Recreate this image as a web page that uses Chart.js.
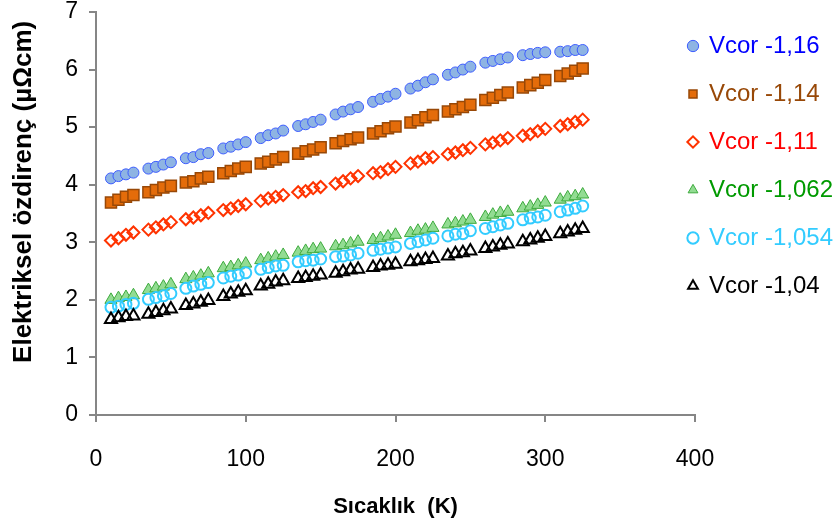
<!DOCTYPE html>
<html>
<head>
<meta charset="utf-8">
<script src="https://cdn.jsdelivr.net/npm/chart.js@4/dist/chart.umd.min.js"></script>
<style>
  body { margin: 0; background: #fff; }
  #wrap { width: 835px; height: 531px; }
</style>
</head>
<body>
<div id="wrap"><canvas id="chart" width="835" height="531"></canvas></div>
<script>
// temperatures (K), same for every series
const sicaklik = [10, 15, 20, 25, 35, 40, 45, 50, 60, 65, 70, 75, 85, 90, 95, 100,
  110, 115, 120, 125, 135, 140, 145, 150, 160, 165, 170, 175, 185, 190, 195, 200,
  210, 215, 220, 225, 235, 240, 245, 250, 260, 265, 270, 275, 285, 290, 295, 300,
  310, 315, 320, 325];

// resistivity (µΩcm) per Vcor
const vcor116 = [4.11, 4.15, 4.18, 4.21, 4.28, 4.31, 4.35, 4.39, 4.46, 4.48, 4.53, 4.55,
  4.63, 4.66, 4.70, 4.74, 4.81, 4.86, 4.89, 4.94, 5.02, 5.05, 5.09, 5.13,
  5.22, 5.27, 5.31, 5.35, 5.44, 5.49, 5.53, 5.58, 5.67, 5.72, 5.78, 5.83,
  5.91, 5.95, 6.00, 6.05, 6.12, 6.15, 6.18, 6.21, 6.25, 6.27, 6.29, 6.30,
  6.31, 6.32, 6.34, 6.34];
const vcor114 = [3.69, 3.74, 3.79, 3.82, 3.87, 3.91, 3.95, 3.98, 4.04, 4.06, 4.11, 4.14,
  4.20, 4.24, 4.28, 4.31, 4.37, 4.40, 4.44, 4.48, 4.54, 4.58, 4.61, 4.65,
  4.72, 4.76, 4.79, 4.82, 4.89, 4.93, 4.98, 5.01, 5.08, 5.12, 5.17, 5.21,
  5.27, 5.31, 5.35, 5.39, 5.47, 5.51, 5.56, 5.60, 5.69, 5.73, 5.77, 5.82,
  5.89, 5.93, 5.98, 6.02];
const vcor111 = [3.03, 3.07, 3.13, 3.17, 3.22, 3.26, 3.31, 3.35, 3.40, 3.43, 3.47, 3.51,
  3.56, 3.59, 3.63, 3.66, 3.72, 3.76, 3.79, 3.82, 3.87, 3.89, 3.94, 3.96,
  4.02, 4.06, 4.11, 4.15, 4.20, 4.22, 4.27, 4.31, 4.37, 4.40, 4.46, 4.48,
  4.53, 4.56, 4.60, 4.64, 4.70, 4.73, 4.77, 4.81, 4.85, 4.88, 4.93, 4.97,
  5.02, 5.05, 5.09, 5.13];
const vcor1062 = [2.00, 2.03, 2.05, 2.08, 2.17, 2.20, 2.23, 2.27, 2.36, 2.39, 2.42, 2.46,
  2.55, 2.57, 2.60, 2.63, 2.69, 2.72, 2.75, 2.78, 2.82, 2.85, 2.88, 2.89,
  2.93, 2.95, 2.98, 3.01, 3.04, 3.07, 3.10, 3.13, 3.16, 3.20, 3.22, 3.25,
  3.31, 3.33, 3.36, 3.39, 3.44, 3.48, 3.51, 3.53, 3.59, 3.62, 3.65, 3.69,
  3.74, 3.78, 3.80, 3.83];
const vcor1054 = [1.87, 1.89, 1.92, 1.94, 2.01, 2.04, 2.07, 2.11, 2.20, 2.24, 2.27, 2.30,
  2.38, 2.41, 2.43, 2.47, 2.53, 2.56, 2.59, 2.60, 2.66, 2.68, 2.69, 2.71,
  2.75, 2.76, 2.78, 2.81, 2.86, 2.88, 2.90, 2.92, 2.98, 3.01, 3.04, 3.07,
  3.11, 3.14, 3.15, 3.20, 3.24, 3.27, 3.30, 3.33, 3.39, 3.42, 3.44, 3.47,
  3.53, 3.56, 3.59, 3.63];
const vcor104 = [1.66, 1.69, 1.71, 1.72, 1.75, 1.78, 1.81, 1.84, 1.90, 1.93, 1.96, 1.99,
  2.06, 2.10, 2.13, 2.16, 2.24, 2.27, 2.31, 2.33, 2.37, 2.39, 2.41, 2.43,
  2.46, 2.49, 2.52, 2.53, 2.56, 2.59, 2.60, 2.62, 2.66, 2.68, 2.70, 2.72,
  2.76, 2.80, 2.82, 2.85, 2.89, 2.92, 2.95, 2.97, 3.01, 3.04, 3.07, 3.10,
  3.15, 3.18, 3.21, 3.24];

const seriesNames = ['Vcor -1,16', 'Vcor -1,14', 'Vcor -1,11', 'Vcor -1,062', 'Vcor -1,054', 'Vcor -1,04'];
const seriesValues = [vcor116, vcor114, vcor111, vcor1062, vcor1054, vcor104];
const legendColors = ['#0000FF', '#984807', '#FF0000', '#009A00', '#33CCFF', '#000000'];

const styles = [
  { pointStyle: 'circle', radius: 5.5, bg: '#8EB4E3', border: '#3D5CFF', bw: 1 },
  { pointStyle: 'rect', radius: 7.8, bg: '#E46C0A', border: '#984807', bw: 1.5 },
  { pointStyle: 'rectRot', radius: 6, bg: 'rgba(0,0,0,0)', border: '#FF3300', bw: 2 },
  { pointStyle: 'triangle', radius: 7, bg: '#92DC92', border: '#3DAA3D', bw: 1 },
  { pointStyle: 'circle', radius: 5.5, bg: 'rgba(0,0,0,0)', border: '#33CCFF', bw: 2 },
  { pointStyle: 'triangle', radius: 7, bg: 'rgba(0,0,0,0)', border: '#000000', bw: 2 }
];

const datasets = seriesNames.map((name, i) => ({
  label: name,
  data: sicaklik.map((t, j) => ({ x: t, y: seriesValues[i][j] })),
  pointStyle: styles[i].pointStyle,
  pointRadius: styles[i].radius,
  backgroundColor: styles[i].bg,
  borderColor: styles[i].border,
  borderWidth: styles[i].bw,
  showLine: false,
  order: seriesNames.length - 1 - i   // later series drawn on top
}));

const axisGray = '#868686';
const fontFam = '"Liberation Sans", Arial, sans-serif';

// legend column sits over the right end of the plot, pinned near the top
const legendShift = {
  id: 'legendShift',
  afterLayout(chart) {
    const lg = chart.legend;
    lg.left = 665;
    lg.right = 835;
    lg.width = 835 - 665;
    lg.top = 10;
    lg.bottom = 531;
    lg.height = 521;
  }
};

new Chart(document.getElementById('chart'), {
  type: 'scatter',
  data: { datasets: datasets },
  plugins: [legendShift],
  options: {
    responsive: false,
    animation: false,
    events: [],
    layout: { padding: { top: 12, left: 0, right: 0, bottom: 0 } },
    plugins: {
      tooltip: { enabled: false },
      legend: {
        position: 'right',
        align: 'start',
        fullSize: false,
        maxWidth: 140,
        labels: {
          usePointStyle: true,
          boxWidth: 8,
          boxHeight: 8,
          padding: 24,
          font: { family: fontFam, size: 24 },
          generateLabels: chart => chart.data.datasets.map((ds, i) => ({
            text: ds.label,
            fillStyle: ds.backgroundColor,
            strokeStyle: ds.borderColor,
            lineWidth: ds.borderWidth,
            pointStyle: ds.pointStyle,
            fontColor: legendColors[i],
            hidden: false,
            datasetIndex: i
          }))
        }
      }
    },
    scales: {
      x: {
        type: 'linear',
        min: 0, max: 400,
        afterFit: s => { s.height = 116; },
        ticks: {
          stepSize: 100,
          color: '#000',
          padding: 26,
          font: { family: fontFam, size: 23, lineHeight: 1 }
        },
        grid: { drawOnChartArea: false, drawTicks: true, tickLength: 7, color: axisGray, lineWidth: 2 },
        border: { color: axisGray, width: 2 },
        title: {
          display: true,
          text: 'Sıcaklık  (K)',
          color: '#000',
          padding: { bottom: 11 },
          font: { family: fontFam, size: 22, weight: 'bold' }
        }
      },
      y: {
        min: 0, max: 7,
        afterFit: s => { s.width = 96; s.paddingTop = 0; s.paddingBottom = 0; },
        ticks: {
          stepSize: 1,
          color: '#000',
          padding: 11,
          font: { family: fontFam, size: 23, lineHeight: 1 }
        },
        grid: { drawOnChartArea: false, drawTicks: true, tickLength: 7, color: axisGray, lineWidth: 2 },
        border: { color: axisGray, width: 2 },
        title: {
          display: true,
          // leading spaces lift the rotated title a little above the axis middle
          text: '      Elektriksel özdirenç (µΩcm)',
          color: '#000',
          padding: { top: 8, bottom: 0 },
          font: { family: fontFam, size: 26, weight: 'bold' }
        }
      }
    }
  }
});
</script>
</body>
</html>
